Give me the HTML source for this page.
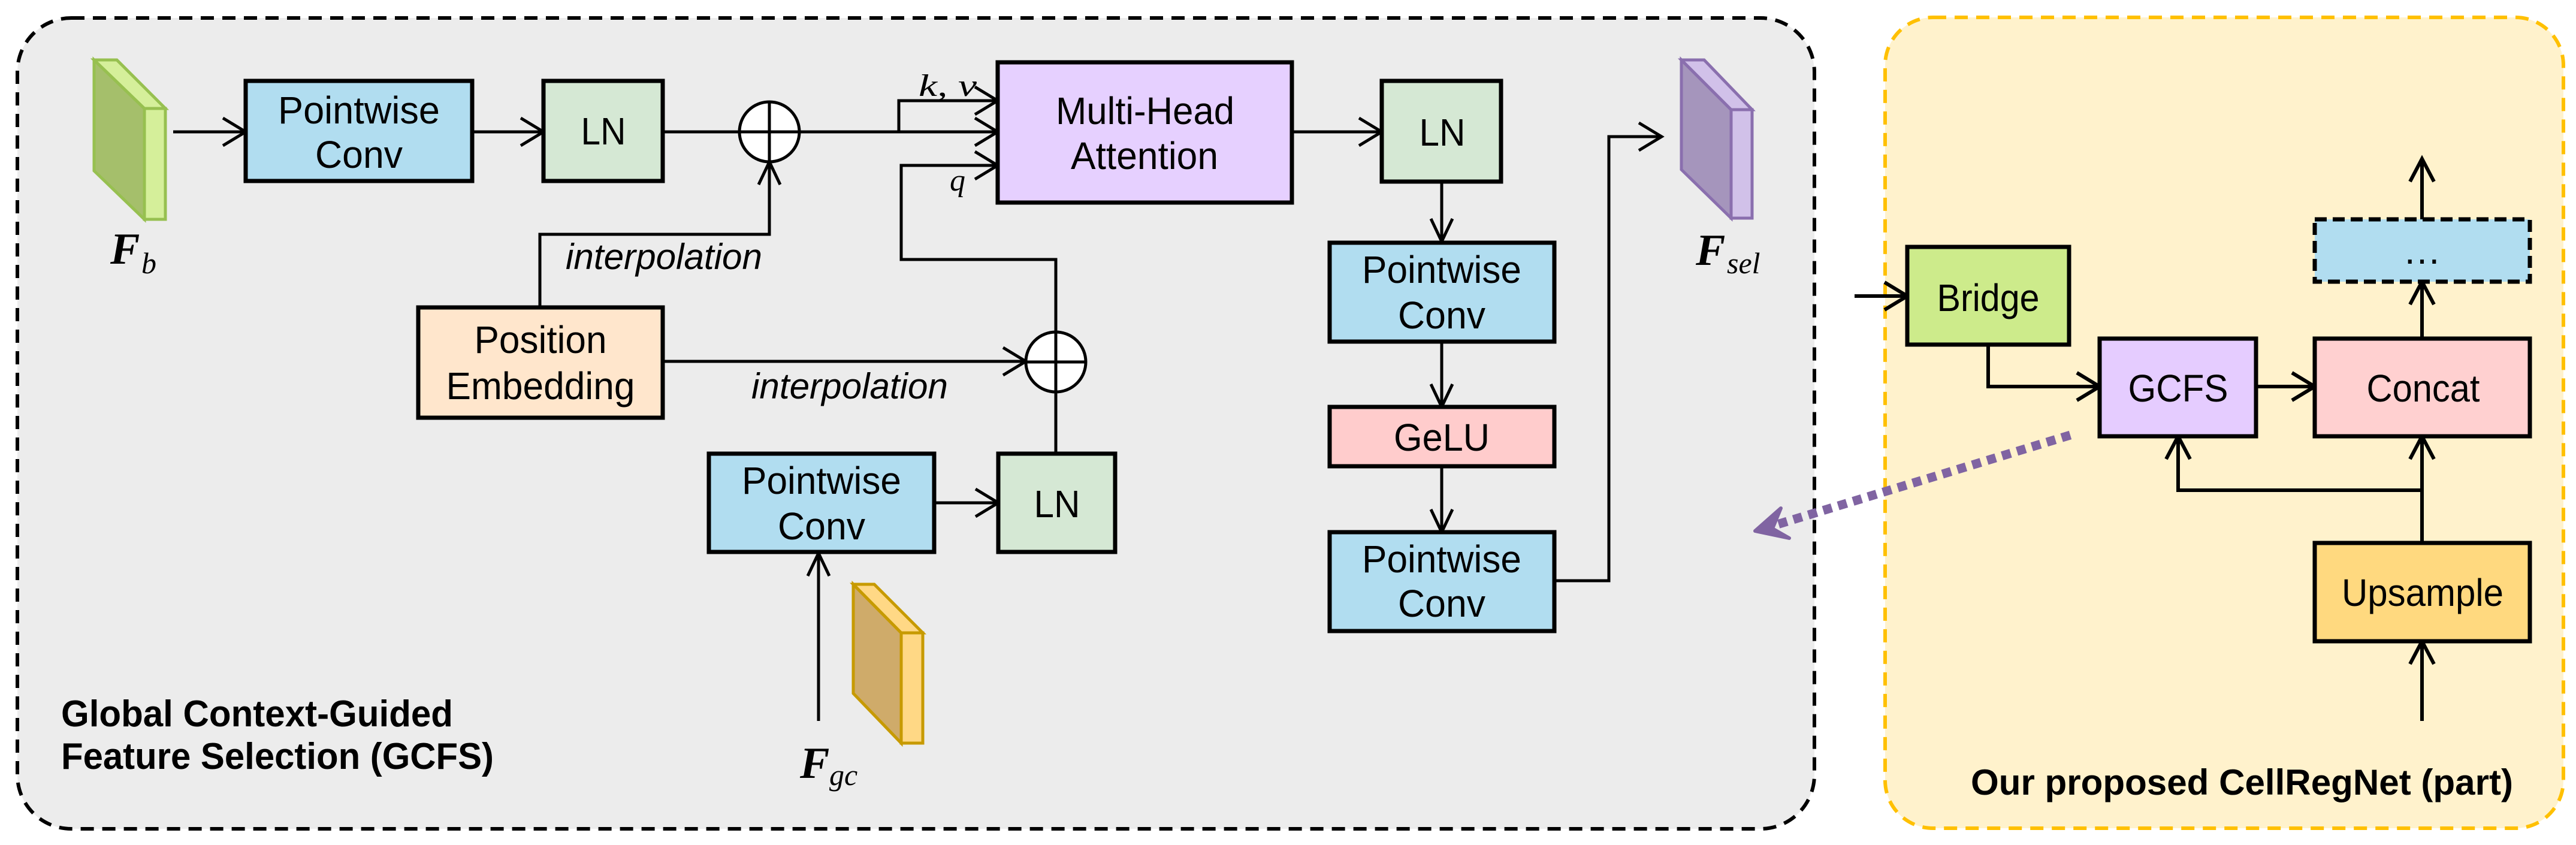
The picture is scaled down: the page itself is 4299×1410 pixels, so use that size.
<!DOCTYPE html>
<html><head><meta charset="utf-8"><style>
html,body{margin:0;padding:0;background:#fff}
svg{display:block}
.t{font-family:"Liberation Sans",Arial,sans-serif;font-size:64px;fill:#000}
.it{font-family:"Liberation Sans",Arial,sans-serif;font-style:italic;font-size:60px;fill:#000}
.r{font-family:"Liberation Sans",Arial,sans-serif;font-size:64px;fill:#000}
.m{font-family:"Liberation Serif",serif;font-style:italic;fill:#000}
</style></head><body>
<svg width="4299" height="1410" viewBox="0 0 4299 1410" xmlns="http://www.w3.org/2000/svg">
<rect x="0" y="0" width="4299" height="1410" fill="#fff"/>
<rect x="29" y="30" width="2999" height="1353" rx="90" fill="#ececec" stroke="#000" stroke-width="6" stroke-dasharray="22 14"/>
<rect x="3146" y="29" width="1132" height="1353" rx="80" fill="#fff2cc" stroke="#ffc000" stroke-width="6" stroke-dasharray="22 14"/>

<g fill="none" stroke="#000" stroke-width="5">
<path d="M289,220H408"/><polyline points="372,197 410,220 372,243"/>
<path d="M788,220H905"/><polyline points="869,197 907,220 869,243"/>
<path d="M1106,220H1234"/>
<path d="M1334,220H1663"/><polyline points="1627,197 1665,220 1627,243"/>
<path d="M1500,220V168H1663"/><polyline points="1627,145 1665,168 1627,191"/>
<path d="M1762,555V433H1504V276H1663"/><polyline points="1627,253 1665,276 1627,299"/>
<path d="M901,513V391H1284V272"/><polyline points="1266,308 1284,270 1302,308"/>
<path d="M1106,603H1710"/><polyline points="1674,580 1712,603 1674,626"/>
<path d="M1762,654V757"/>
<path d="M1559,839H1664"/><polyline points="1628,816 1666,839 1628,862"/>
<path d="M1366,1203V925"/><polyline points="1348,961 1366,923 1384,961"/>
<path d="M2156,220H2304"/><polyline points="2268,197 2306,220 2268,243"/>
<path d="M2406,303V401"/><polyline points="2388,365 2406,403 2424,365"/>
<path d="M2406,570V677"/><polyline points="2388,641 2406,679 2424,641"/>
<path d="M2406,778V886"/><polyline points="2388,850 2406,888 2424,850"/>
<path d="M2595,969H2685V228H2771"/><polyline points="2735,205 2773,228 2735,251"/>
</g>
<g fill="#fff" stroke="#000" stroke-width="5">
<circle cx="1284" cy="220" r="50"/><circle cx="1762" cy="604" r="50"/>
</g>
<g stroke="#000" stroke-width="5">
<path d="M1234,220H1334M1284,170V270M1712,604H1812M1762,554V654"/>
</g>

<g stroke="#000" stroke-width="7">
<rect x="410" y="135" width="378" height="167" fill="#b1ddf0"/>
<rect x="907" y="135" width="199" height="167" fill="#d5e8d4"/>
<rect x="1665" y="104" width="491" height="234" fill="#e6d0ff"/>
<rect x="2306" y="135" width="199" height="168" fill="#d5e8d4"/>
<rect x="698" y="513" width="408" height="184" fill="#ffe6cc"/>
<rect x="1183" y="757" width="376" height="164" fill="#b1ddf0"/>
<rect x="1666" y="757" width="195" height="164" fill="#d5e8d4"/>
<rect x="2219" y="405" width="375" height="165" fill="#b1ddf0"/>
<rect x="2219" y="679" width="375" height="99" fill="#ffcccc"/>
<rect x="2219" y="888" width="375" height="165" fill="#b1ddf0"/>
</g>
<text class="t" x="599" y="206" text-anchor="middle" textLength="270" lengthAdjust="spacingAndGlyphs">Pointwise</text>
<text class="t" x="599" y="280" text-anchor="middle" textLength="146" lengthAdjust="spacingAndGlyphs">Conv</text>
<text class="t" x="1007" y="241" text-anchor="middle" textLength="75" lengthAdjust="spacingAndGlyphs">LN</text>
<text class="t" x="1911" y="207" text-anchor="middle" textLength="298" lengthAdjust="spacingAndGlyphs">Multi-Head</text>
<text class="t" x="1910" y="282" text-anchor="middle" textLength="246" lengthAdjust="spacingAndGlyphs">Attention</text>
<text class="t" x="2407" y="243" text-anchor="middle" textLength="77" lengthAdjust="spacingAndGlyphs">LN</text>
<text class="t" x="902" y="589" text-anchor="middle" textLength="221" lengthAdjust="spacingAndGlyphs">Position</text>
<text class="t" x="902" y="666" text-anchor="middle" textLength="315" lengthAdjust="spacingAndGlyphs">Embedding</text>
<text class="t" x="1371" y="824" text-anchor="middle" textLength="266" lengthAdjust="spacingAndGlyphs">Pointwise</text>
<text class="t" x="1371" y="900" text-anchor="middle" textLength="146" lengthAdjust="spacingAndGlyphs">Conv</text>
<text class="t" x="1764" y="863" text-anchor="middle" textLength="77" lengthAdjust="spacingAndGlyphs">LN</text>
<text class="t" x="2406" y="472" text-anchor="middle" textLength="266" lengthAdjust="spacingAndGlyphs">Pointwise</text>
<text class="t" x="2406" y="548" text-anchor="middle" textLength="146" lengthAdjust="spacingAndGlyphs">Conv</text>
<text class="t" x="2406" y="752" text-anchor="middle" textLength="160" lengthAdjust="spacingAndGlyphs">GeLU</text>
<text class="t" x="2406" y="955" text-anchor="middle" textLength="266" lengthAdjust="spacingAndGlyphs">Pointwise</text>
<text class="t" x="2406" y="1029" text-anchor="middle" textLength="146" lengthAdjust="spacingAndGlyphs">Conv</text>
<text class="it" x="944" y="449" textLength="328" lengthAdjust="spacingAndGlyphs">interpolation</text>
<text class="it" x="1254" y="665" textLength="328" lengthAdjust="spacingAndGlyphs">interpolation</text>
<text class="m" x="1533" y="160" font-size="52" textLength="97" lengthAdjust="spacingAndGlyphs">k, v</text>
<text class="m" x="1585" y="318" font-size="52">q</text>
<text x="102" y="1212" font-family="Liberation Sans,Arial,sans-serif" font-weight="bold" font-size="62" textLength="654" lengthAdjust="spacingAndGlyphs">Global Context-Guided</text>
<text x="102" y="1283" font-family="Liberation Sans,Arial,sans-serif" font-weight="bold" font-size="62" textLength="722" lengthAdjust="spacingAndGlyphs">Feature Selection (GCFS)</text>

<g stroke="#97c050" stroke-width="5">
<polygon points="157,100 241,181 241,366 157,285" fill="#a5bf6b"/>
<polygon points="157,100 195,100 276,181 241,181" fill="#d5ef9a"/>
<rect x="241" y="181" width="35" height="185" fill="#d5ef9a"/>
</g>
<g stroke="#c79a00" stroke-width="5">
<polygon points="1424,975 1504,1056 1504,1240 1424,1157" fill="#cfab6a"/>
<polygon points="1424,975 1459,975 1540,1056 1504,1056" fill="#ffd885"/>
<rect x="1504" y="1056" width="36" height="184" fill="#ffd885"/>
</g>
<g stroke="#8a6fae" stroke-width="5">
<polygon points="2806,100 2889,183 2889,364 2806,283" fill="#a595bc"/>
<polygon points="2806,100 2844,100 2924,183 2889,183" fill="#d1c1e9"/>
<rect x="2889" y="183" width="35" height="181" fill="#d1c1e9"/>
</g>
<text class="m" x="184" y="440" font-size="74" font-weight="bold">F</text>
<text class="m" x="236" y="456" font-size="50">b</text>
<text class="m" x="1335" y="1298" font-size="74" font-weight="bold">F</text>
<text class="m" x="1384" y="1310" font-size="50">gc</text>
<text class="m" x="2830" y="442" font-size="74" font-weight="bold">F</text>
<text class="m" x="2882" y="456" font-size="50">sel</text>

<g fill="none" stroke="#000" stroke-width="6">
<path d="M3095,494H3181"/><polyline points="3145,471 3183,494 3145,517"/>
<path d="M3318,575V645H3502"/><polyline points="3466,622 3504,645 3466,668"/>
<path d="M3765,645H3861"/><polyline points="3825,622 3863,645 3825,668"/>
<path d="M4042,565V472"/><polyline points="4022,508 4042,470 4062,508"/>
<path d="M4042,366V267"/><polyline points="4022,303 4042,265 4062,303"/>
<path d="M4042,906V730"/><polyline points="4022,766 4042,728 4062,766"/>
<path d="M4042,818H3635V730"/><polyline points="3615,766 3635,728 3655,766"/>
<path d="M4042,1203V1072"/><polyline points="4022,1108 4042,1070 4062,1108"/>
</g>
<g stroke="#000" stroke-width="7">
<rect x="3183" y="412" width="270" height="163" fill="#cdeb8b"/>
<rect x="3504" y="565" width="261" height="163" fill="#e5ccff"/>
<rect x="3863" y="565" width="359" height="163" fill="#ffd0d0"/>
<rect x="3863" y="906" width="359" height="164" fill="#ffd97f"/>
<rect x="3863" y="366" width="359" height="104" fill="#b1ddf0" stroke-dasharray="20 10"/>
</g>
<text class="r" x="3318" y="519" text-anchor="middle" textLength="171" lengthAdjust="spacingAndGlyphs">Bridge</text>
<text class="r" x="3635" y="670" text-anchor="middle" textLength="167" lengthAdjust="spacingAndGlyphs">GCFS</text>
<text class="r" x="4044" y="670" text-anchor="middle" textLength="189" lengthAdjust="spacingAndGlyphs">Concat</text>
<text class="r" x="4043" y="1011" text-anchor="middle" textLength="270" lengthAdjust="spacingAndGlyphs">Upsample</text>
<text class="r" x="4042" y="440" text-anchor="middle" font-size="50">…</text>
<text x="3289" y="1326" font-family="Liberation Sans,Arial,sans-serif" font-weight="bold" font-size="60" textLength="905" lengthAdjust="spacingAndGlyphs">Our proposed CellRegNet (part)</text>

<path d="M3455,726L2950,880" stroke="#8064a2" stroke-width="15" stroke-dasharray="15 11" fill="none"/>
<polygon points="2972,848 2929,886 2986,898 2958,882" fill="#8064a2" stroke="#8064a2" stroke-width="6" stroke-linejoin="round"/>
</svg>
</body></html>
